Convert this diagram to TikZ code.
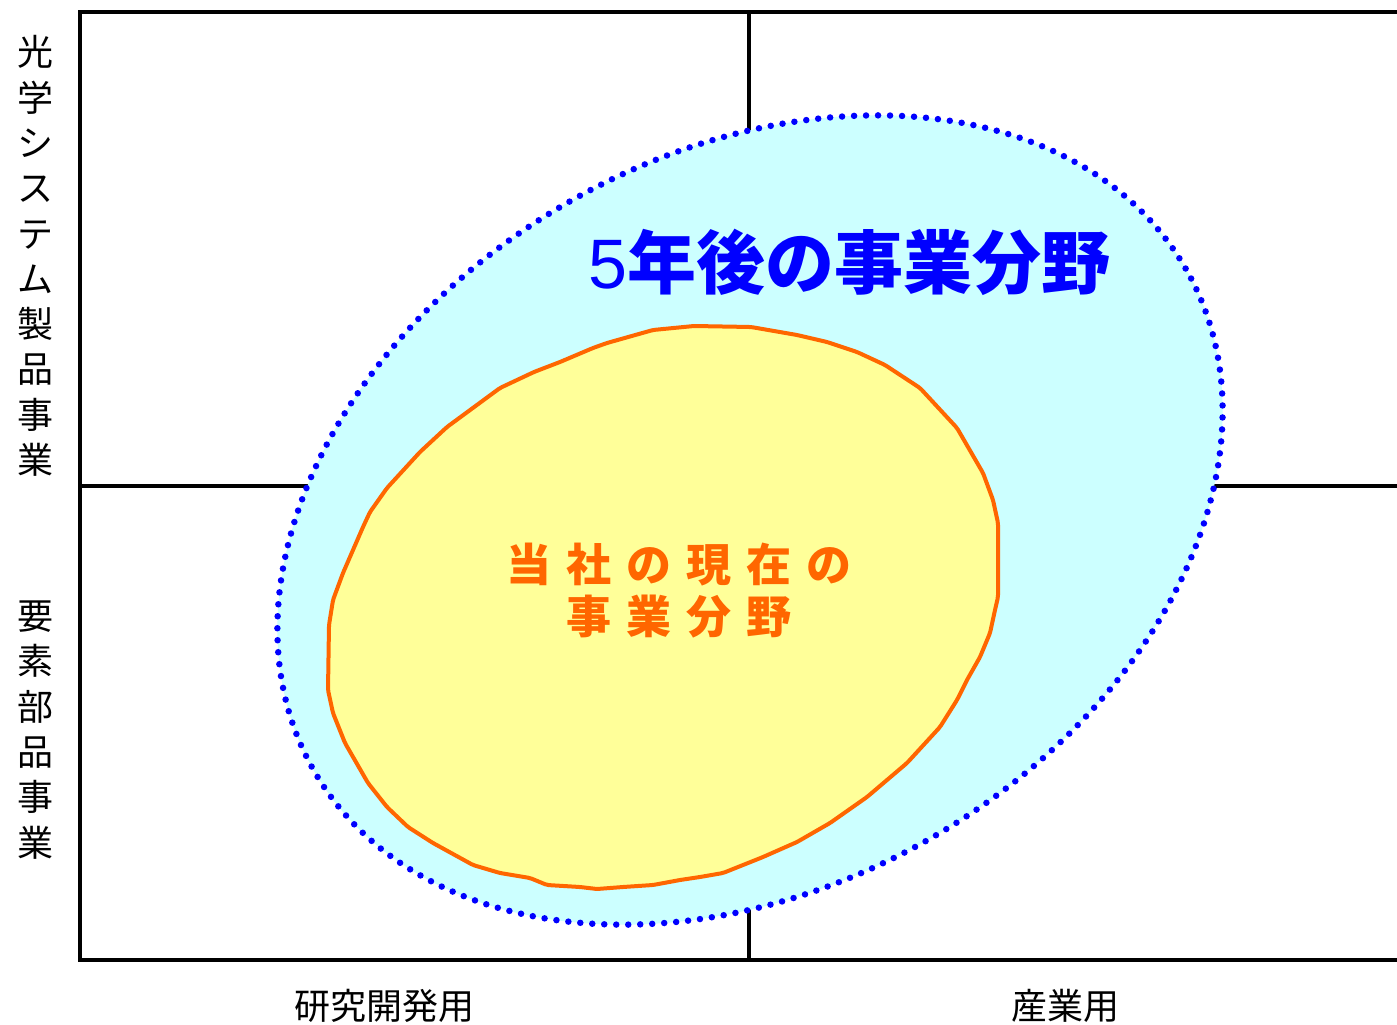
\documentclass[tikz,border=0pt]{standalone}
\usepackage{fontspec}
\setmainfont{Liberation Sans}
\newfontfamily\jp{Noto Sans CJK JP}
\definecolor{cyanfill}{RGB}{204,255,255}
\definecolor{yellowfill}{RGB}{255,255,153}
\definecolor{orangeline}{RGB}{255,102,0}
\definecolor{bluedot}{RGB}{0,0,255}
\tikzset{
  frameline/.style={line width=4pt, black},
  midline/.style={line width=3.5pt, black},
  futurearea/.style={fill=cyanfill, draw=bluedot, line width=6.5pt, line cap=round, dash pattern=on 0pt off 12pt},
  currentarea/.style={fill=yellowfill, draw=orangeline, line width=4pt, line join=round, rounded corners=2pt},
  sidelabel/.style={font=\fontsize{36}{45.3}\selectfont\jp, align=center, inner sep=0pt, text=black},
  bottomlabel/.style={font=\fontsize{36}{40}\selectfont\jp, inner sep=0pt, text=black},
  titlelabel/.style={font=\fontsize{69}{84}\selectfont\jp\bfseries, inner sep=0pt, text=bluedot},
  currentlabel/.style={font=\fontsize{45}{52}\selectfont\jp\bfseries, align=center, inner sep=0pt, text=orangeline}
}
\begin{document}
\begin{tikzpicture}[x=1pt,y=-1pt]
\useasboundingbox (0,0) rectangle (1397,1025);
\fill[white] (0,0) rectangle (1397,1025);
% frame
\coordinate (tr) at (1397,12);
\coordinate (tl) at (80,12);
\coordinate (bl) at (80,960);
\coordinate (br) at (1397,960);
\coordinate (ml) at (80,486);
\coordinate (mr) at (1397,486);
\coordinate (mt) at (749,12);
\coordinate (mb) at (749,960);
\draw[midline] (ml) -- (mr);
\draw[midline] (mt) -- (mb);
\draw[frameline] (tr) -- (tl) -- (bl) -- (br);
% future area
\draw[futurearea, rotate around={30:(750,520)}] (750,520) ellipse [x radius=503pt, y radius=366pt];
% current area
\draw[currentarea] (694,326) -- (751,327) -- (797,335) -- (827,342) -- (857,352) -- (885,365) -- (920,388) -- (957,428) -- (983,473) -- (993,500) -- (998,523) -- (998,597) -- (995,610) -- (990,633) -- (980,657) -- (967,680) -- (957,700) -- (940,727) -- (907,763) -- (867,797) -- (830,823) -- (797,842) -- (763,857) -- (723,873) -- (700,877) -- (680,880) -- (653,885) -- (623,887) -- (597,889) -- (580,887) -- (547,885) -- (530,878) -- (500,873) -- (473,865) -- (433,843) -- (408,827) -- (387,807) -- (368,783) -- (345,743) -- (333,713) -- (328,690) -- (329,625) -- (333,600) -- (343,573) -- (353,550) -- (363,527) -- (370,512) -- (387,488) -- (420,452) -- (447,427) -- (500,388) -- (534,372) -- (560,362) -- (593,348) -- (607,343) -- (653,330) -- cycle;
% labels
\node[titlelabel, anchor=base west] (future) at (588,288) {{\normalfont\fontsize{70}{84}\selectfont 5}年後の事業分野};
\node[currentlabel] (current) at (679,591) {当\kern15pt 社\kern15pt の\kern15pt 現\kern15pt 在\kern15pt の\\事\kern15pt 業\kern15pt 分\kern15pt 野};
\node[sidelabel] (optical) at (35,256) {光\\学\\シ\\ス\\テ\\ム\\製\\品\\事\\業};
\node[sidelabel] (parts) at (35,730) {要\\素\\部\\品\\事\\業};
\node[bottomlabel] (research) at (384,1006) {研究開発用};
\node[bottomlabel] (industry) at (1065,1006) {産業用};
\end{tikzpicture}
\end{document}
